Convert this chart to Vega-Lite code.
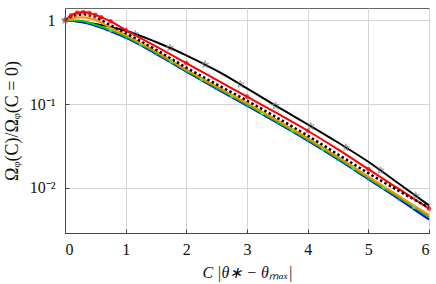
{
  "$schema": "https://vega.github.io/schema/vega-lite/v6.json",
  "width": 364,
  "height": 225,
  "autosize": {"type": "none"},
  "padding": {"left": 65, "top": 8, "right": 7, "bottom": 51},
  "background": "white",
  "config": {
    "font": "Liberation Serif, Times New Roman, serif",
    "view": {"stroke": "#666", "strokeWidth": 1},
    "axis": {
      "domainColor": "#444",
      "gridColor": "#d4d4d4",
      "gridWidth": 1,
      "tickColor": "#444",
      "labelFont": "Liberation Serif, Times New Roman, serif",
      "titleFont": "Liberation Serif, Times New Roman, serif",
      "labelFontSize": 16,
      "labelColor": "#111",
      "titleColor": "#111",
      "titleFontWeight": "normal"
    }
  },
  "datasets": {
    "lines": [
      {"s": "black", "x": 0, "y": 1.0}, {"s": "black", "x": 0.25, "y": 0.96}, {"s": "black", "x": 0.5, "y": 0.905}, {"s": "black", "x": 0.75, "y": 0.83}, {"s": "black", "x": 1, "y": 0.75}, {"s": "black", "x": 1.5, "y": 0.55}, {"s": "black", "x": 2, "y": 0.382}, {"s": "black", "x": 2.5, "y": 0.25}, {"s": "black", "x": 3, "y": 0.154}, {"s": "black", "x": 3.5, "y": 0.093}, {"s": "black", "x": 4, "y": 0.0574}, {"s": "black", "x": 4.5, "y": 0.0348}, {"s": "black", "x": 5, "y": 0.0205}, {"s": "black", "x": 5.5, "y": 0.0113}, {"s": "black", "x": 6, "y": 0.0062},
      {"s": "red", "x": 0, "y": 1.0}, {"s": "red", "x": 0.1, "y": 1.145}, {"s": "red", "x": 0.2, "y": 1.232}, {"s": "red", "x": 0.3, "y": 1.252}, {"s": "red", "x": 0.4, "y": 1.225}, {"s": "red", "x": 0.5, "y": 1.161}, {"s": "red", "x": 0.6, "y": 1.085}, {"s": "red", "x": 0.75, "y": 0.973}, {"s": "red", "x": 1, "y": 0.763}, {"s": "red", "x": 1.5, "y": 0.488}, {"s": "red", "x": 2, "y": 0.308}, {"s": "red", "x": 2.5, "y": 0.194}, {"s": "red", "x": 3, "y": 0.1226}, {"s": "red", "x": 3.5, "y": 0.0773}, {"s": "red", "x": 4, "y": 0.0481}, {"s": "red", "x": 4.5, "y": 0.0288}, {"s": "red", "x": 5, "y": 0.01673}, {"s": "red", "x": 5.5, "y": 0.00973}, {"s": "red", "x": 6, "y": 0.00566},
      {"s": "blue", "x": 0, "y": 1.0}, {"s": "blue", "x": 0.25, "y": 0.96}, {"s": "blue", "x": 0.5, "y": 0.862}, {"s": "blue", "x": 0.75, "y": 0.742}, {"s": "blue", "x": 1, "y": 0.622}, {"s": "blue", "x": 1.5, "y": 0.398}, {"s": "blue", "x": 2, "y": 0.2444}, {"s": "blue", "x": 2.5, "y": 0.1522}, {"s": "blue", "x": 3, "y": 0.096}, {"s": "blue", "x": 3.5, "y": 0.0598}, {"s": "blue", "x": 4, "y": 0.0367}, {"s": "blue", "x": 4.5, "y": 0.0219}, {"s": "blue", "x": 5, "y": 0.01276}, {"s": "blue", "x": 5.5, "y": 0.00742}, {"s": "blue", "x": 6, "y": 0.0042},
      {"s": "green", "x": 0, "y": 1.0}, {"s": "green", "x": 0.25, "y": 0.987}, {"s": "green", "x": 0.5, "y": 0.885}, {"s": "green", "x": 0.75, "y": 0.763}, {"s": "green", "x": 1, "y": 0.64}, {"s": "green", "x": 1.5, "y": 0.409}, {"s": "green", "x": 2, "y": 0.251}, {"s": "green", "x": 2.5, "y": 0.1563}, {"s": "green", "x": 3, "y": 0.0987}, {"s": "green", "x": 3.5, "y": 0.0614}, {"s": "green", "x": 4, "y": 0.0377}, {"s": "green", "x": 4.5, "y": 0.0225}, {"s": "green", "x": 5, "y": 0.01311}, {"s": "green", "x": 5.5, "y": 0.00773}, {"s": "green", "x": 6, "y": 0.0045},
      {"s": "orange", "x": 0, "y": 1.0}, {"s": "orange", "x": 0.1, "y": 1.04}, {"s": "orange", "x": 0.2, "y": 1.075}, {"s": "orange", "x": 0.3, "y": 1.085}, {"s": "orange", "x": 0.4, "y": 1.06}, {"s": "orange", "x": 0.5, "y": 1.014}, {"s": "orange", "x": 0.75, "y": 0.816}, {"s": "orange", "x": 1, "y": 0.666}, {"s": "orange", "x": 1.5, "y": 0.426}, {"s": "orange", "x": 2, "y": 0.258}, {"s": "orange", "x": 2.5, "y": 0.1628}, {"s": "orange", "x": 3, "y": 0.1027}, {"s": "orange", "x": 3.5, "y": 0.064}, {"s": "orange", "x": 4, "y": 0.0393}, {"s": "orange", "x": 4.5, "y": 0.0235}, {"s": "orange", "x": 5, "y": 0.01366}, {"s": "orange", "x": 5.5, "y": 0.00805}, {"s": "orange", "x": 6, "y": 0.00475},
      {"s": "dotted", "x": 0, "y": 1.0}, {"s": "dotted", "x": 0.1, "y": 1.1}, {"s": "dotted", "x": 0.2, "y": 1.155}, {"s": "dotted", "x": 0.3, "y": 1.176}, {"s": "dotted", "x": 0.4, "y": 1.14}, {"s": "dotted", "x": 0.5, "y": 1.085}, {"s": "dotted", "x": 0.75, "y": 0.873}, {"s": "dotted", "x": 1, "y": 0.703}, {"s": "dotted", "x": 1.5, "y": 0.444}, {"s": "dotted", "x": 2, "y": 0.2724}, {"s": "dotted", "x": 2.5, "y": 0.1719}, {"s": "dotted", "x": 3, "y": 0.11}, {"s": "dotted", "x": 3.5, "y": 0.0684}, {"s": "dotted", "x": 4, "y": 0.042}, {"s": "dotted", "x": 4.5, "y": 0.0251}, {"s": "dotted", "x": 5, "y": 0.01501}, {"s": "dotted", "x": 5.5, "y": 0.00922}, {"s": "dotted", "x": 6, "y": 0.00582}
    ],
    "markers": [
      {"m": "star", "x": 0, "y": 1.0}, {"m": "star", "x": 1.16, "y": 0.68}, {"m": "star", "x": 1.73, "y": 0.47}, {"m": "star", "x": 2.31, "y": 0.297}, {"m": "star", "x": 2.89, "y": 0.172}, {"m": "star", "x": 3.47, "y": 0.0958}, {"m": "star", "x": 4.05, "y": 0.0546}, {"m": "star", "x": 4.63, "y": 0.0303}, {"m": "star", "x": 5.2, "y": 0.0162}, {"m": "star", "x": 5.78, "y": 0.0081},
      {"m": "red", "x": 0, "y": 1.0}, {"m": "red", "x": 0.1, "y": 1.145}, {"m": "red", "x": 0.2, "y": 1.232}, {"m": "red", "x": 0.3, "y": 1.252}, {"m": "red", "x": 0.4, "y": 1.225}, {"m": "red", "x": 0.5, "y": 1.161}, {"m": "red", "x": 0.6, "y": 1.085}, {"m": "red", "x": 0.75, "y": 0.973}, {"m": "red", "x": 1, "y": 0.763}, {"m": "red", "x": 2, "y": 0.308}, {"m": "red", "x": 3, "y": 0.1226}, {"m": "red", "x": 4, "y": 0.0481}, {"m": "red", "x": 5, "y": 0.01673}, {"m": "red", "x": 6, "y": 0.00566},
      {"m": "orange", "x": 0.1, "y": 1.04}, {"m": "orange", "x": 0.2, "y": 1.075}, {"m": "orange", "x": 0.3, "y": 1.085}, {"m": "orange", "x": 0.4, "y": 1.06}, {"m": "orange", "x": 0.5, "y": 1.014},
      {"m": "green", "x": 0.75, "y": 0.763}, {"m": "green", "x": 1.25, "y": 0.5117}, {"m": "green", "x": 1.75, "y": 0.3204}, {"m": "green", "x": 2.25, "y": 0.1981}, {"m": "green", "x": 2.75, "y": 0.1242}, {"m": "green", "x": 3.25, "y": 0.0778}, {"m": "green", "x": 3.75, "y": 0.0481}, {"m": "green", "x": 4.25, "y": 0.0291}, {"m": "green", "x": 4.75, "y": 0.01718}, {"m": "green", "x": 5.25, "y": 0.01007}, {"m": "green", "x": 5.75, "y": 0.0059},
      {"m": "cyan", "x": 1, "y": 0.622}, {"m": "cyan", "x": 1.5, "y": 0.398}, {"m": "cyan", "x": 2, "y": 0.2444}, {"m": "cyan", "x": 2.5, "y": 0.1522}, {"m": "cyan", "x": 3, "y": 0.096}, {"m": "cyan", "x": 3.5, "y": 0.0598}, {"m": "cyan", "x": 4, "y": 0.0367}, {"m": "cyan", "x": 4.5, "y": 0.0219}, {"m": "cyan", "x": 5, "y": 0.01276}, {"m": "cyan", "x": 5.5, "y": 0.00742}
    ]
  },
  "encoding": {
    "x": {
      "field": "x", "type": "quantitative",
      "scale": {"domain": [0, 6], "nice": false, "zero": false},
      "axis": {"values": [0, 1, 2, 3, 4, 5, 6], "tickSize": -4, "labelPadding": 12, "grid": true,
               "title": "C |θ∗ − θₘₐₓ|", "titleFontSize": 16, "titleFontStyle": "italic", "titlePadding": 7}
    },
    "y": {
      "field": "y", "type": "quantitative",
      "scale": {"type": "log", "domain": [0.0029, 1.4], "nice": false},
      "axis": {"values": [0.01, 0.1, 1], "tickSize": -4, "labelPadding": 14, "grid": true,
               "labelExpr": "datum.value >= 0.99 ? '1' : (datum.value >= 0.099 ? '10⁻¹' : '10⁻²')",
               "title": "Ωᵩ(C)/Ωᵩ(C = 0)", "titleFontSize": 18, "titlePadding": 8}
    }
  },
  "layer": [
    {"data": {"name": "lines"}, "transform": [{"filter": "datum.s === 'black'"}], "mark": {"type": "line", "color": "#000000", "strokeWidth": 2, "interpolate": "monotone"}},
    {"data": {"name": "lines"}, "transform": [{"filter": "datum.s === 'blue'"}], "mark": {"type": "line", "color": "#0000ff", "strokeWidth": 2.2, "interpolate": "monotone"}},
    {"data": {"name": "lines"}, "transform": [{"filter": "datum.s === 'green'"}], "mark": {"type": "line", "color": "#00cc00", "strokeWidth": 2, "interpolate": "monotone"}},
    {"data": {"name": "lines"}, "transform": [{"filter": "datum.s === 'orange'"}], "mark": {"type": "line", "color": "#ff8c00", "strokeWidth": 2, "interpolate": "monotone"}},
    {"data": {"name": "lines"}, "transform": [{"filter": "datum.s === 'red'"}], "mark": {"type": "line", "color": "#ff0000", "strokeWidth": 2, "interpolate": "monotone"}},
    {"data": {"name": "lines"}, "transform": [{"filter": "datum.s === 'dotted'"}], "mark": {"type": "line", "color": "#000000", "strokeWidth": 2.5, "strokeDash": [2.5, 2.5], "interpolate": "monotone"}},
    {"data": {"name": "markers"}, "transform": [{"filter": "datum.m === 'orange'"}], "mark": {"type": "point", "shape": "circle", "filled": false, "color": "#ffa040", "size": 22, "strokeWidth": 1}},
    {"data": {"name": "markers"}, "transform": [{"filter": "datum.m === 'green'"}], "mark": {"type": "point", "shape": "square", "filled": true, "color": "#55ee55", "size": 14}},
    {"data": {"name": "markers"}, "transform": [{"filter": "datum.m === 'cyan'"}], "mark": {"type": "point", "shape": "triangle-up", "filled": true, "color": "#00aacc", "size": 14}},
    {"data": {"name": "markers"}, "transform": [{"filter": "datum.m === 'red'"}], "mark": {"type": "point", "shape": "circle", "filled": true, "color": "#ff0000", "size": 22}},
    {"data": {"name": "markers"}, "transform": [{"filter": "datum.m === 'star'"}], "mark": {"type": "point", "shape": "M0,-1L0.225,-0.309L0.951,-0.309L0.363,0.118L0.588,0.809L0,0.382L-0.588,0.809L-0.363,0.118L-0.951,-0.309L-0.225,-0.309Z", "filled": false, "color": "#777777", "size": 60, "strokeWidth": 1}}
  ]
}
